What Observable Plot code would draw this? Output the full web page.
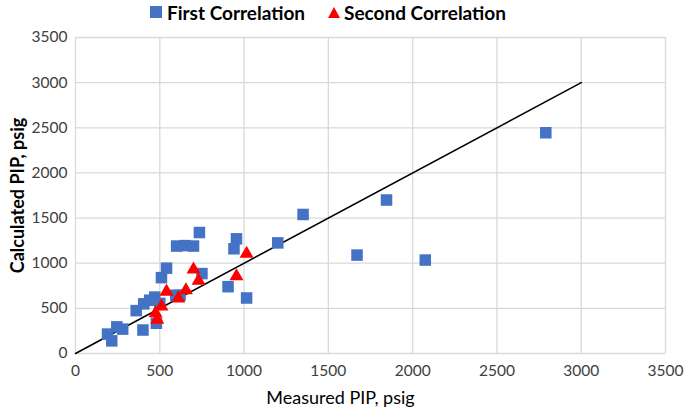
<!DOCTYPE html>
<html><head><meta charset="utf-8">
<script src="https://cdn.jsdelivr.net/npm/d3@7"></script>
<script src="https://cdn.jsdelivr.net/npm/@observablehq/plot@0.6"></script>
<style>
body{margin:0;background:#fff;font-family:Lato,"Open Sans",sans-serif}
#wrap{position:relative;width:685px;height:414px}
#legend{position:absolute;top:0px;left:0;width:685px;height:24px;font-weight:bold;font-size:19px;color:#000}
.item{position:absolute;top:0;display:flex;align-items:center;height:24px;white-space:nowrap}
.sq{display:inline-block;width:12px;height:12px;background:#4472C4;margin-right:5px}
.tri{display:inline-block;width:0;height:0;border-left:6px solid transparent;border-right:6px solid transparent;border-bottom:11px solid #FF0000;margin-right:4px}
#chart{position:absolute;top:0;left:0}
</style></head>
<body><div id="wrap"><div id="chart"></div><div id="legend"></div></div>
<script>
const seriesNames = ["First Correlation", "Second Correlation"];
const firstMeasured   = [190, 245, 280, 215, 400, 480, 360, 405, 440, 470, 500, 595, 620, 510, 540, 600, 650, 700, 735, 750, 905, 1015, 940, 955, 1200, 1350, 1670, 1845, 2075, 2790];
const firstCalculated = [215, 295, 270, 140, 260, 335, 475, 550, 590, 625, 555, 645, 645, 840, 945, 1190, 1195, 1190, 1340, 885, 740, 615, 1160, 1270, 1225, 1540, 1090, 1700, 1035, 2445];
const secondMeasured   = [1015, 700, 730, 955, 540, 655, 610, 510, 475, 485];
const secondCalculated = [1105, 930, 805, 855, 685, 700, 610, 520, 445, 375];
const lineMeasured = [0, 3000];
const lineCalculated = [0, 3000];
const xTicks = [0, 500, 1000, 1500, 2000, 2500, 3000, 3500];
const yTicks = [0, 500, 1000, 1500, 2000, 2500, 3000, 3500];
const xTitle = "Measured PIP, psig";
const yTitle = "Calculated PIP, psig";

const first = firstMeasured.map((m, i) => ({m, c: firstCalculated[i]}));
const second = secondMeasured.map((m, i) => ({m, c: secondCalculated[i]}));
const line = lineMeasured.map((m, i) => ({m, c: lineCalculated[i]}));

const chart = Plot.plot({
  width: 685, height: 414,
  marginLeft: 75, marginRight: 20, marginTop: 37, marginBottom: 61,
  style: {fontFamily: "Lato, 'Open Sans', sans-serif", background: "transparent"},
  x: {domain: [0, 3500]},
  y: {domain: [0, 3500]},
  marks: [
    Plot.gridX(xTicks, {stroke: "#d9d9d9", strokeOpacity: 1, strokeWidth: 1.3}),
    Plot.gridY(yTicks, {stroke: "#d9d9d9", strokeOpacity: 1, strokeWidth: 1.3}),
    Plot.axisX(xTicks, {tickSize: 0, tickPadding: 11, fontSize: 15.5, color: "#404040", label: null, tickFormat: d => String(d)}),
    Plot.axisY(yTicks, {tickSize: 0, tickPadding: 8, fontSize: 15.5, color: "#404040", label: null, tickFormat: d => String(d)}),
    Plot.text([xTitle], {frameAnchor: "bottom", textAnchor: "middle", dy: 50, dx: -30, fontSize: 18, fill: "#000"}),
    Plot.text([yTitle], {frameAnchor: "left", textAnchor: "middle", rotate: -90, dx: -57, fontSize: 18, fontWeight: "bold", fill: "#000"}),
    Plot.line(line, {x: "m", y: "c", stroke: "#000", strokeWidth: 1.6}),
    Plot.dot(first, {x: "m", y: "c", symbol: "square", r: 6.5, fill: "#4472C4", stroke: "none"}),
    Plot.dot(second, {x: "m", y: "c", symbol: "triangle", r: 5.2, fill: "#FF0000", stroke: "none"})
  ]
});
document.getElementById("chart").appendChild(chart);

const legend = document.getElementById("legend");
const lefts = [150, 328];
seriesNames.forEach((name, i) => {
  const it = document.createElement("div");
  it.className = "item";
  it.style.left = lefts[i] + "px";
  const sw = document.createElement("span");
  sw.className = i === 0 ? "sq" : "tri";
  it.appendChild(sw);
  it.appendChild(document.createTextNode(name));
  legend.appendChild(it);
});
</script>
</body></html>
